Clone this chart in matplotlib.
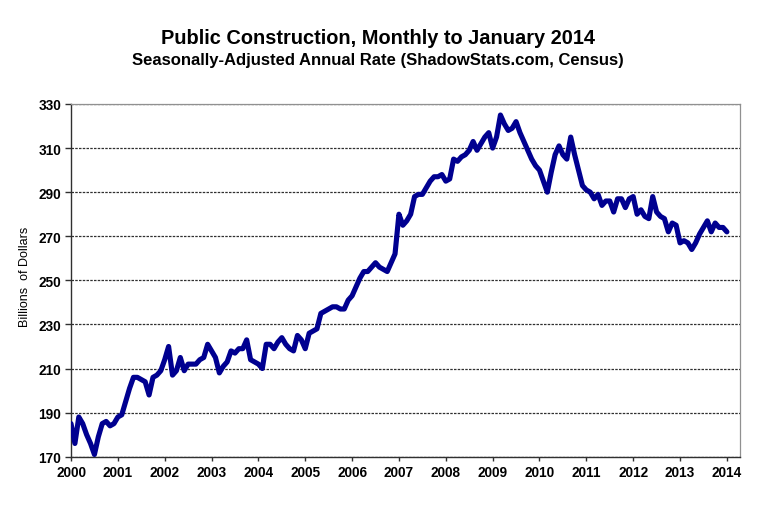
import matplotlib
matplotlib.use("Agg")
import matplotlib.pyplot as plt
import numpy as np

plt.rcParams['font.family'] = ['Liberation Sans', 'DejaVu Sans']

# Monthly values, Jan 2000 .. Jan 2014 (billions of dollars, SAAR)
v2000 = [185, 176, 188, 185, 180, 176, 171, 179, 185, 186, 184, 185]
v2001 = [188, 189, 195, 201, 206, 206, 205, 204, 198, 206, 207, 209]
v2002 = [214, 220, 207, 209, 215, 209, 212, 212, 212, 214, 215, 221]
v2003 = [218, 215, 208, 211, 213, 218, 217, 219, 219, 223, 214, 213]
v2004 = [212, 210, 221, 221, 219, 222, 224, 221, 219, 218, 225, 223]
v2005 = [219, 226, 227, 228, 235, 236, 237, 238, 238, 237, 237, 241]
v2006 = [243, 247, 251, 254, 254, 256, 258, 256, 255, 254, 258, 262]
v2007 = [280, 275, 277, 280, 288, 289, 289, 292, 295, 297, 297, 298]
v2008 = [295, 296, 305, 304, 306, 307, 309, 313, 309, 312, 315, 317]
v2009 = [310, 315, 325, 321, 318, 319, 322, 317, 313, 309, 305, 302]
v2010 = [300, 295, 290, 299, 307, 311, 307, 305, 315, 307, 300, 293]
v2011 = [291, 290, 287, 289, 284, 286, 286, 281, 287, 287, 283, 287]
v2012 = [288, 280, 282, 279, 278, 288, 281, 279, 278, 272, 276, 275]
v2013 = [267, 268, 267, 264, 267, 271, 274, 277, 272, 276, 274, 274]
v2014 = [272]

values = (v2000 + v2001 + v2002 + v2003 + v2004 + v2005 + v2006 + v2007 +
          v2008 + v2009 + v2010 + v2011 + v2012 + v2013 + v2014)
years = [2000 + i / 12 for i in range(len(values))]

year_ticks = list(range(2000, 2015))
y_ticks = [170, 190, 210, 230, 250, 270, 290, 310, 330]

W, H = 763, 506
fig = plt.figure(figsize=(W / 100, H / 100), dpi=100)
ax = fig.add_axes([71 / W, 1 - 457.7 / H, (740 - 71) / W, (457.7 - 105) / H])

ax.plot(years, values, color='#000090', lw=3.7, solid_capstyle='round',
        solid_joinstyle='round', zorder=3)

ax.set_xlim(2000, 2014.28)
ax.set_ylim(170, 330)
ax.set_xticks(year_ticks)
ax.set_xticklabels([str(y) for y in year_ticks])
ax.set_yticks(y_ticks)
ax.set_yticklabels([str(y) for y in y_ticks])

for lab in ax.get_xticklabels() + ax.get_yticklabels():
    lab.set_fontweight('bold')
    lab.set_fontsize(9.8)

ax.tick_params(axis='x', direction='out', length=3, width=1, color='#303030', pad=3)
ax.tick_params(axis='y', direction='out', length=4, width=1, color='#303030', pad=3)

ax.yaxis.grid(True, color='#303030', linestyle=(0, (2, 1)), linewidth=0.9, zorder=1)
ax.set_axisbelow(True)

for side in ['top', 'right']:
    ax.spines[side].set_color('#909090')
    ax.spines[side].set_linewidth(0.9)
for side in ['left', 'bottom']:
    ax.spines[side].set_color('#303030')
    ax.spines[side].set_linewidth(1.0)

fig.text(25 / W, 1 - 277 / H, 'Billions  of Dollars', rotation=90,
         ha='center', va='center', fontsize=9)

fig.text(378 / W, 1 - 38 / H, 'Public Construction, Monthly to January 2014',
         ha='center', va='center', fontsize=14.4, fontweight='bold')
fig.text(378 / W, 1 - 61 / H, 'Seasonally-Adjusted Annual Rate (ShadowStats.com, Census)',
         ha='center', va='center', fontsize=12, fontweight='bold')

fig.savefig('out.png', dpi=100)
